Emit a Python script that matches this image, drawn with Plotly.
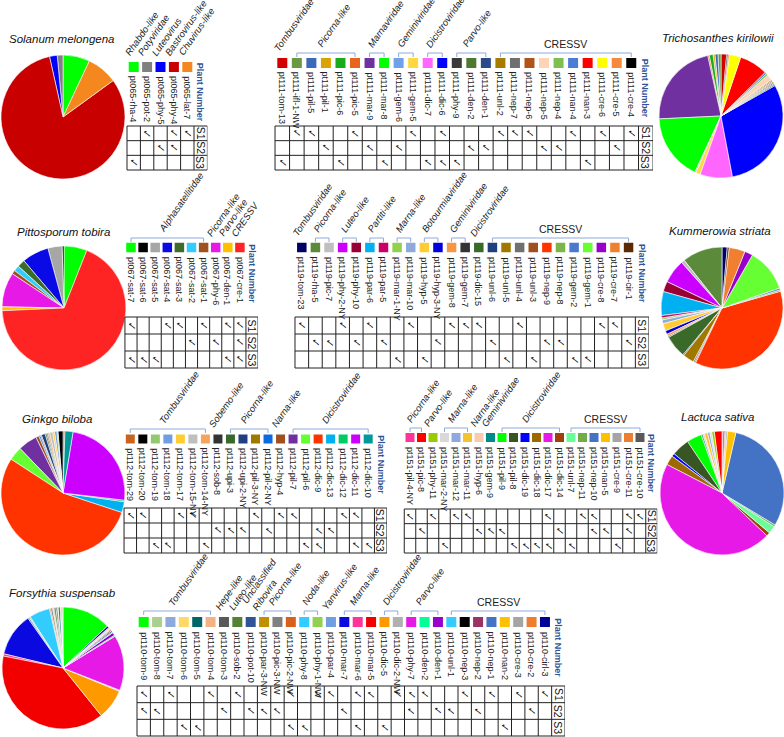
import plotly.graph_objects as go

W, H = 784, 737

# ------------------------------------------------------------------ data
# pt065 - Solanum melongena
PT065_SAMPLES = ["rha-4", "pot-2", "phy-5", "phy-4", "lat-7"]
PT065_COLORS = ["#00FF00", "#808080", "#0000FF", "#C80000", "#F4881E"]
PT065_SHARE = [7, 1.5, 2, 81.5, 8]
PT065_S1 = ["pot-2", "phy-4", "lat-7"]
PT065_S2 = ["phy-5", "phy-4"]
PT065_S3 = ["rha-4"]
PT065_FAMILIES = [("Rhabdo-like", 0, 0), ("Potyviridae", 1, 1), ("Luteovirus", 2, 2),
                  ("Bastrovirus-like", 3, 3), ("Chuvirus-like", 4, 4)]

# pt111 - Trichosanthes kirilowii
PT111_SAMPLES = ["tom-13", "ifl-1-NW", "pil-5", "pil-1", "pic-6", "pic-5", "mar-9", "mar-8",
                 "gem-6", "gem-5", "dic-7", "dic-6", "phy-9", "den-2", "den-1", "unl-2",
                 "nep-7", "nep-6", "nep-5", "nep-4", "nan-4", "nan-3", "cre-6", "cre-5", "cre-4"]
PT111_COLORS = ["#D40000", "#6A9A40", "#3A6AB8", "#D9A400", "#1AAB1A", "#E8641E", "#7030A0",
                "#00FF00", "#6FA0E8", "#FFD740", "#FF66FF", "#0000FF", "#3A3A3A", "#4E7A30",
                "#2A4A8A", "#A67C00", "#707070", "#B0521A", "#FFD3B6", "#7DC050", "#4A7CD8",
                "#FF0000", "#FFFF00", "#F58A3C", "#000000"]
PT111_SHARE = [1.5, 0.8, 0.8, 0.5, 1.0, 0.4, 22.5, 17.5, 0.3, 1.2, 8.5, 30.5, 0.3, 0.3, 0.3,
               0.3, 0.3, 0.3, 1.5, 0.5, 0.5, 7.5, 3.0, 0.4, 0.3]
PT111_S1 = ["ifl-1-NW", "pil-5", "pic-5", "gem-5", "dic-6", "unl-2", "nep-7", "nep-6", "nan-4",
            "cre-6", "cre-4"]
PT111_S2 = ["pil-1", "mar-9", "gem-6", "den-2", "den-1", "nep-5", "nep-4", "cre-5"]
PT111_S3 = ["tom-13", "pic-6", "mar-8", "dic-7", "dic-6", "phy-9", "nan-3"]
PT111_FAMILIES = [("Tombusviridae", 0, 0), ("Picorna-like", 1, 5), ("Marnaviridae", 6, 7),
                  ("Geminiviridae", 8, 9), ("Dicistroviridae", 10, 11), ("Parvo-like", 12, 14),
                  ("CRESSV", 15, 24)]

# pt067 - Pittosporum tobira
PT067_SAMPLES = ["sat-7", "sat-6", "sat-5", "sat-4", "sat-3", "sat-2", "sat-1", "phy-6",
                 "den-1", "cre-1"]
PT067_COLORS = ["#00FF00", "#000000", "#A6A6A6", "#0A0AE6", "#3D6B2A", "#33CCFF", "#A0521E",
                "#E619E6", "#FFC000", "#FF2424"]
PT067_SHARE = [6, 0.5, 3.7, 7, 2, 1.5, 1, 9, 1, 68.3]
PT067_S1 = ["sat-7", "sat-4", "sat-3", "sat-1", "den-1", "cre-1"]
PT067_S2 = ["sat-2", "phy-6", "cre-1"]
PT067_S3 = ["sat-7", "sat-6", "sat-5", "den-1", "cre-1"]
PT067_FAMILIES = [("Alphasatellitidae", 0, 6), ("Picorna-like", 7, 7), ("Parvo-like", 8, 8),
                  ("CRESSV", 9, 9)]

# pt119 - Kummerowia striata
PT119_SAMPLES = ["tom-23", "rha-5", "pic-7", "phy-2-NY", "phy-10", "par-6", "par-5",
                 "mar-1-NY", "mar-10", "hyp-5", "hyp-3-NY", "gem-8", "gem-7", "dic-15",
                 "unl-6", "unl-5", "unl-4", "unl-3", "nep-9", "nep-8", "gem-2", "gem-1",
                 "cre-8", "cre-7", "cir-1"]
PT119_COLORS = ["#000066", "#5A8A3A", "#BFBFBF", "#CC00FF", "#990033", "#00B0F0", "#CC0066",
                "#92D050", "#8EA9DB", "#FFCC33", "#0000DD", "#F79646", "#333333", "#3A6A2A",
                "#1F3F7F", "#A07800", "#707070", "#A0501E", "#FF3300", "#7AB648", "#4A7AD0",
                "#66FF33", "#9900CC", "#F08030", "#5A2A00"]
PT119_SHARE = [1.4, 10.8, 0.9, 6.4, 2.8, 6.4, 0.7, 0.5, 1.0, 2.0, 1.0, 0.6, 0.3, 6.0, 0.3,
               3.0, 0.4, 0.3, 37, 0.4, 0.5, 11.5, 2.2, 4.3, 0.5]
PT119_S1 = ["tom-23", "phy-2-NY", "par-6", "mar-10", "gem-8", "gem-7", "dic-15", "unl-4",
            "cre-8", "cre-7"]
PT119_S2 = ["rha-5", "pic-7", "phy-10", "par-5", "hyp-3-NY", "unl-6", "nep-9", "nep-8", "cir-1"]
PT119_S3 = ["mar-1-NY", "hyp-5", "unl-5", "unl-3", "gem-2", "gem-1"]
PT119_FAMILIES = [("Tombusviridae", 0, 0), ("Picorna-like", 1, 2), ("Luteo-like", 3, 4),
                  ("Partiti-like", 5, 6), ("Marna-like", 7, 8), ("Botourmiaviridae", 9, 10),
                  ("Geminiviridae", 11, 12), ("Dicistroviridae", 13, 13), ("CRESSV", 14, 24)]

# pt112 - Ginkgo biloba
PT112_SAMPLES = ["tom-29", "tom-20", "tom-19", "tom-18", "tom-17", "tom-15-NY", "tom-14-NY",
                 "sob-8", "upi-3", "upi-2-NY", "pil-3-NY", "pil-2-NY", "hyp-4", "pil-7",
                 "pil-6", "dic-9", "dic-13", "dic-12", "dic-11", "dic-10"]
PT112_COLORS = ["#C8641E", "#000000", "#92C86E", "#6F9FE0", "#FFCC33", "#BFBFBF", "#F4A460",
                "#333333", "#3A6A2A", "#1F3F7F", "#A07800", "#0A6AE0", "#A0501E", "#7030A0",
                "#66FF33", "#FF3300", "#00B0F0", "#00CC66", "#CC00FF", "#009999"]
PT112_SHARE = [0.5, 1.3, 0.3, 0.6, 0.5, 0.8, 0.5, 0.3, 0.4, 1.0, 0.3, 0.4, 0.8, 5.0, 3.6,
               54, 2.8, 0.4, 24.2, 2.1]
PT112_S1 = ["tom-29", "tom-20", "tom-17", "tom-15-NY", "pil-3-NY", "hyp-4", "pil-7", "dic-12",
            "dic-11"]
PT112_S2 = ["sob-8", "upi-3", "upi-2-NY", "pil-2-NY", "dic-9", "dic-13"]
PT112_S3 = ["tom-19", "tom-18", "tom-14-NY", "pil-6", "dic-9", "dic-11", "dic-10"]
PT112_FAMILIES = [("Tombusviridae", 0, 6), ("Sobemo-like", 7, 7), ("Picorna-like", 8, 11),
                  ("Narna-like", 12, 12), ("Dicistroviridae", 13, 19)]

# pt151 - Lactuca sativa
PT151_SAMPLES = ["pil-4-NY", "pic-8", "phy-11", "mar-2-NY", "mar-12", "mar-11", "hyp-6",
                 "gem-9", "pil-9", "pil-8", "dic-19", "dic-18", "dic-17", "dic-14", "unl-7",
                 "nep-11", "nep-10", "nan-5", "cre-9", "cre-11", "cre-10"]
PT151_COLORS = ["#FF3399", "#FF0000", "#99CC00", "#D9D9D9", "#8EA9DB", "#F4C430", "#F8CBAD",
                "#008B8B", "#00FF00", "#375623", "#0000FF", "#9C6A00", "#E619E6", "#A0400A",
                "#66FF99", "#70AD47", "#4472C4", "#FFC000", "#A5A5A5", "#ED7D31", "#595959"]
PT151_SHARE = [0.3, 2.0, 0.7, 0.5, 0.6, 0.8, 0.5, 0.4, 3.9, 4.7, 0.8, 2.5, 45.5, 1.0, 2.0,
               0.5, 30, 2.2, 0.4, 0.3, 0.4]
PT151_S1 = ["pil-4-NY", "phy-11", "mar-12", "mar-11", "dic-17", "nep-11", "nep-10", "cre-11",
            "cre-10"]
PT151_S2 = ["pic-8", "hyp-6", "gem-9", "pil-9", "dic-14", "nep-10", "nan-5", "cre-11"]
PT151_S3 = ["mar-2-NY", "pil-8", "dic-19", "dic-18", "dic-17", "unl-7", "cre-9"]
PT151_FAMILIES = [("Picorna-like", 0, 1), ("Parvo-like", 2, 2), ("Marna-like", 3, 5),
                  ("Narna-like", 6, 6), ("Geminiviridae", 7, 7), ("Dicistroviridae", 8, 13),
                  ("CRESSV", 14, 20)]

# pt110 - Forsythia suspensab
PT110_SAMPLES = ["tom-9", "tom-8", "tom-7", "tom-6", "tom-5", "tom-4", "tom-3", "sob-2",
                 "pot-10", "par-3-NW", "pic-3-NW", "pic-2-NW", "phy-8", "phy-1-NW", "par-4",
                 "mar-7", "mar-6", "mar-5", "dic-5", "dic-2-NW", "phy-7", "den-2", "den-1",
                 "unl-1", "nep-3", "nep-2", "nep-1", "nan-2", "cre-3", "cre-2", "cirl-3"]
PT110_COLORS = ["#00FF00", "#A9D18E", "#8EA9DB", "#FFD966", "#006666", "#F4B183", "#595959",
                "#548235", "#2F5597", "#BF9000", "#808080", "#D9601A", "#33CCFF", "#92D050",
                "#6F9FE0", "#0A0AE0", "#FF3399", "#F20000", "#FF9900", "#B0B0B0", "#E619E6",
                "#00FF99", "#9900CC", "#33CCFF", "#000000", "#993366", "#4472C4", "#FFC000",
                "#A5A5A5", "#ED7D31", "#000099"]
PT110_SHARE = [13, 0.3, 0.3, 0.2, 0.5, 0.2, 0.4, 0.5, 0.2, 0.2, 0.5, 0.3, 5.5, 0.3, 0.4,
               11.5, 0.6, 39, 8, 0.3, 14.7, 0.3, 0.8, 0.3, 0.3, 0.3, 0.2, 0.2, 0.2, 0.2, 0.5]
PT110_S1 = ["tom-9", "tom-7", "tom-4", "sob-2", "pic-2-NW", "phy-1-NW", "par-4", "mar-6",
            "mar-5", "dic-2-NW", "phy-7", "den-2", "nep-3", "nep-1", "cre-3", "cirl-3"]
PT110_S2 = ["tom-9", "tom-8", "tom-3", "pot-10", "par-3-NW", "pic-3-NW", "mar-7", "phy-7",
            "den-1", "unl-1", "nep-2", "cre-2"]
PT110_S3 = ["tom-6", "tom-5", "pic-2-NW", "phy-8", "mar-6", "dic-5", "nan-2"]
PT110_FAMILIES = [("Tombusviridae", 0, 5), ("Hepe-like", 6, 6), ("Luteo-like", 7, 7),
                  ("Unclassified<br>Ribovira", 8, 8), ("Picorna-like", 9, 11),
                  ("Noda-like", 12, 13), ("Yanvirus-like", 14, 14), ("Marna-like", 15, 17),
                  ("Dicistroviridae", 18, 19), ("Parvo-like", 20, 22), ("CRESSV", 23, 30)]

SAMPLE_ROWS = ["S1", "S2", "S3"]

# ------------------------------------------------------------------ layout of panels
PANELS = [
    dict(plant="pt065", title="Solanum melongena", samples=PT065_SAMPLES, colors=PT065_COLORS,
         share=PT065_SHARE, rows=[PT065_S1, PT065_S2, PT065_S3], fam=PT065_FAMILIES,
         x0=133.7, dx=13.4, sq_y=67, sq=10, br=(56, 60), lab_y=74, tt=126, tb=170,
         pie=(63, 117, 62), tpos=(62, 39)),
    dict(plant="pt111", title="Trichosanthes kirilowii", samples=PT111_SAMPLES,
         colors=PT111_COLORS, share=PT111_SHARE, rows=[PT111_S1, PT111_S2, PT111_S3],
         fam=PT111_FAMILIES, x0=282.3, dx=14.54, sq_y=63, sq=10, br=(53, 57), lab_y=70,
         tt=126, tb=170, pie=(721, 116, 62), tpos=(718, 38)),
    dict(plant="pt067", title="Pittosporum tobira", samples=PT067_SAMPLES, colors=PT067_COLORS,
         share=PT067_SHARE, rows=[PT067_S1, PT067_S2, PT067_S3], fam=PT067_FAMILIES,
         x0=131, dx=12.1, sq_y=247.5, sq=9.5, br=(238, 242), lab_y=255, tt=317, tb=368,
         pie=(64, 308, 62), tpos=(63, 232)),
    dict(plant="pt119", title="Kummerowia striata", samples=PT119_SAMPLES, colors=PT119_COLORS,
         share=PT119_SHARE, rows=[PT119_S1, PT119_S2, PT119_S3], fam=PT119_FAMILIES,
         x0=301.8, dx=13.615, sq_y=247.5, sq=9.5, br=(238, 242), lab_y=255, tt=317, tb=368,
         pie=(722, 308, 61), tpos=(720, 231)),
    dict(plant="pt112", title="Ginkgo biloba", samples=PT112_SAMPLES, colors=PT112_COLORS,
         share=PT112_SHARE, rows=[PT112_S1, PT112_S2, PT112_S3], fam=PT112_FAMILIES,
         x0=130.3, dx=12.52, sq_y=439, sq=9, br=(429, 433), lab_y=446, tt=508, tb=553,
         pie=(63, 493, 62), tpos=(57, 419)),
    dict(plant="pt151", title="Lactuca sativa", samples=PT151_SAMPLES, colors=PT151_COLORS,
         share=PT151_SHARE, rows=[PT151_S1, PT151_S2, PT151_S3], fam=PT151_FAMILIES,
         x0=410, dx=11.5, sq_y=437.5, sq=9, br=(428, 432), lab_y=445, tt=509, tb=553,
         pie=(722, 493, 62), tpos=(718, 417)),
    dict(plant="pt110", title="Forsythia suspensab", samples=PT110_SAMPLES, colors=PT110_COLORS,
         share=PT110_SHARE, rows=[PT110_S1, PT110_S2, PT110_S3], fam=PT110_FAMILIES,
         x0=143.7, dx=13.375, sq_y=622, sq=10, br=(611, 615), lab_y=630, tt=686, tb=736,
         pie=(63, 668, 61), tpos=(62, 593)),
]

FONT = "Liberation Sans"
BRACKET = "#8EA9DB"
GRID = "#222222"
FAM_SHIFT_PX = 14   # rotated-label bounding box offset so the text starts at the bracket centre
LEFT_PAD = 2.5      # extra axis room (in columns) to the left of the first column


def fx(px):
    return max(0.0, min(1.0, px / W))


def fy(py):
    return max(0.0, min(1.0, 1 - py / H))


fig = go.Figure()
annotations = []
shapes = []
layout_axes = {}

for k, p in enumerate(PANELS, start=1):
    n = len(p["samples"])
    xa, ya = f"x{k}", f"y{k}"
    top = p["br"][0] - 2
    bot = min(H, p["tb"] + 1)
    layout_axes[f"xaxis{k}"] = dict(domain=[fx(p["x0"] - LEFT_PAD * p["dx"]),
                                            fx(p["x0"] + (n + 0.5) * p["dx"])],
                                    range=[-LEFT_PAD, n + 0.5], visible=False, fixedrange=True,
                                    anchor=ya)
    layout_axes[f"yaxis{k}"] = dict(domain=[fy(bot), fy(top)], range=[bot, top],
                                    visible=False, fixedrange=True, anchor=xa)

    # colour squares
    fig.add_trace(go.Scatter(x=list(range(n)), y=[p["sq_y"]] * n, mode="markers",
                             marker=dict(symbol="square", size=p["sq"], color=p["colors"],
                                         line=dict(width=0)),
                             xaxis=xa, yaxis=ya, cliponaxis=False, showlegend=False,
                             hoverinfo="skip"))
    # sample labels
    for i, s in enumerate(p["samples"]):
        annotations.append(dict(x=i, y=p["lab_y"], xref=xa, yref=ya, text=f'{p["plant"]}-{s}',
                                textangle=90, xanchor="center", yanchor="top", showarrow=False,
                                font=dict(family=FONT, size=9, color="#222")))
    # plant number label
    annotations.append(dict(x=n, y=p["sq_y"] - p["sq"] / 2 - 1, xref=xa, yref=ya,
                            text="<b>Plant Number</b>", textangle=90, xanchor="center",
                            yanchor="top", showarrow=False,
                            font=dict(family=FONT, size=9, color="#2F5597")))
    # families
    for name, i0, i1 in p["fam"]:
        if i1 > i0:
            yb, yt = p["br"][1], p["br"][0]
            shapes.append(dict(type="path", xref=xa, yref=ya,
                               path=f"M {i0},{yb} L {i0},{yt} L {i1},{yt} L {i1},{yb}",
                               line=dict(color=BRACKET, width=1)))
            base = yt - 1
        else:
            base = p["sq_y"] - p["sq"] / 2 - 2
        xc = (i0 + i1) / 2
        if name == "CRESSV" and i1 > i0:
            annotations.append(dict(x=xc, y=base, xref=xa, yref=ya, text=name, textangle=0,
                                    xanchor="center", yanchor="bottom", showarrow=False,
                                    font=dict(family=FONT, size=10.5, color="#222")))
        else:
            annotations.append(dict(x=xc - FAM_SHIFT_PX / p["dx"], y=base, xref=xa, yref=ya,
                                    text=f"<i>{name}</i>",
                                    textangle=-55, xanchor="left", yanchor="bottom",
                                    showarrow=False, align="left",
                                    font=dict(family=FONT, size=9.5, color="#222")))
    # table grid
    rh = (p["tb"] - p["tt"]) / 3
    for r in range(4):
        yy = p["tt"] + r * rh
        shapes.append(dict(type="line", xref=xa, yref=ya, x0=-0.5, x1=n + 0.5, y0=yy, y1=yy,
                           line=dict(color=GRID, width=1)))
    for j in range(n + 2):
        shapes.append(dict(type="line", xref=xa, yref=ya, x0=j - 0.5, x1=j - 0.5,
                           y0=p["tt"], y1=p["tb"], line=dict(color=GRID, width=1)))
    # check marks and row labels
    for r, detected in enumerate(p["rows"]):
        yc = p["tt"] + (r + 0.5) * rh
        for i, s in enumerate(p["samples"]):
            if s in detected:
                annotations.append(dict(x=i, y=yc, xref=xa, yref=ya, text="✓", textangle=90,
                                        showarrow=False, xanchor="center", yanchor="middle",
                                        font=dict(family="DejaVu Sans", size=11, color="#111")))
        annotations.append(dict(x=n, y=yc, xref=xa, yref=ya, text=SAMPLE_ROWS[r], textangle=90,
                                showarrow=False, xanchor="center", yanchor="middle",
                                font=dict(family=FONT, size=10.5, color="#111")))

    # pie
    cx, cy, rr = p["pie"]
    fig.add_trace(go.Pie(values=p["share"], labels=[f'{p["plant"]}-{s}' for s in p["samples"]],
                         marker=dict(colors=p["colors"], line=dict(color="white", width=0.6)),
                         sort=False, direction="counterclockwise", rotation=0,
                         textinfo="none", showlegend=False,
                         domain=dict(x=[fx(cx - rr), fx(cx + rr)], y=[fy(cy + rr), fy(cy - rr)])))
    annotations.append(dict(x=fx(p["tpos"][0]), y=fy(p["tpos"][1]), xref="paper", yref="paper",
                            text=f'<i>{p["title"]}</i>', showarrow=False, xanchor="center",
                            yanchor="middle", font=dict(family=FONT, size=11.5, color="#111")))

fig.update_layout(width=W, height=H, margin=dict(l=0, r=0, t=0, b=0),
                  paper_bgcolor="white", plot_bgcolor="rgba(0,0,0,0)",
                  annotations=annotations, shapes=shapes, showlegend=False, **layout_axes)

fig.write_html("out.html", config={"displayModeBar": False},
               post_script="document.body.style.margin='0px';document.body.style.overflow='hidden';")
